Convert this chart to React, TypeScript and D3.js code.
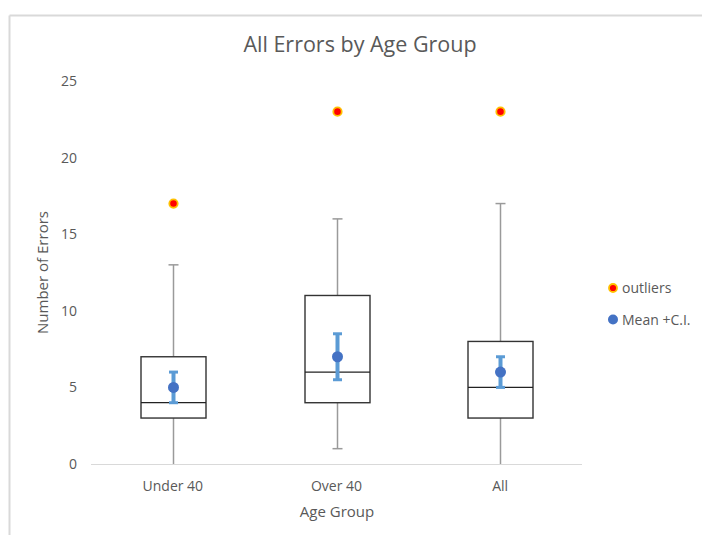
import React from "react";
import * as d3 from "d3";

// Box-plot statistics per age group
const groups = ["Under 40", "Over 40", "All"];
const whiskerLow = [0, 1, 0];
const q1 = [3, 4, 3];
const median = [4, 6, 5];
const q3 = [7, 11, 8];
const whiskerHigh = [13, 16, 17];
const outliers = [17, 23, 23];
const means = [5, 7, 6];
const ciLow = [4, 5.5, 5];
const ciHigh = [6, 8.5, 7];
const yTicks = [0, 5, 10, 15, 20, 25];

const W = 702;
const H = 535;
const margin = { left: 91, right: 120, top: 81, bottom: 71 };
const FONT = "'Open Sans', sans-serif";
const TEXT = "#595959";

export default function App() {
  const x = d3
    .scaleBand<string>()
    .domain(groups)
    .range([margin.left, W - margin.right])
    .paddingInner(0)
    .paddingOuter(0);
  const y = d3.scaleLinear().domain([0, 25]).range([H - margin.bottom, margin.top]);
  const boxW = 65;
  const capW = 10;
  const ciCapW = 9;

  return (
    <svg
      width={W}
      height={H}
      style={{ position: "absolute", left: 0, top: 0, background: "#fff" }}
      fontFamily={FONT}
    >
      {/* frame */}
      <line x1={9.5} y1={15.5} x2={W} y2={15.5} stroke="#d9d9d9" strokeWidth={2} />
      <line x1={9.5} y1={15.5} x2={9.5} y2={H} stroke="#d9d9d9" strokeWidth={2} />

      <text x={360} y={52} textAnchor="middle" fontSize={21.5} fill={TEXT}>
        All Errors by Age Group
      </text>

      {/* y axis labels */}
      {yTicks.map((t) => (
        <text
          key={t}
          x={77}
          y={y(t)}
          dy="0.35em"
          textAnchor="end"
          fontSize={14}
          fill={TEXT}
        >
          {t}
        </text>
      ))}
      <text
        transform={`translate(48,${(y(0) + y(25)) / 2}) rotate(-90)`}
        textAnchor="middle"
        fontSize={15}
        fill={TEXT}
      >
        Number of Errors
      </text>

      {/* x axis */}
      <line
        x1={margin.left}
        x2={W - margin.right}
        y1={y(0) + 0.5}
        y2={y(0) + 0.5}
        stroke="#d9d9d9"
        strokeWidth={1}
      />
      {groups.map((g) => (
        <text
          key={g}
          x={(x(g) as number) + x.bandwidth() / 2}
          y={491}
          textAnchor="middle"
          fontSize={14}
          fill={TEXT}
        >
          {g}
        </text>
      ))}
      <text x={337} y={517} textAnchor="middle" fontSize={15} fill={TEXT}>
        Age Group
      </text>

      {/* boxes */}
      {groups.map((g, i) => {
        const cx = Math.round((x(g) as number) + x.bandwidth() / 2) + 0.5;
        return (
          <g key={g}>
            <line x1={cx} x2={cx} y1={y(q3[i])} y2={y(whiskerHigh[i])} stroke="#9a9a9a" strokeWidth={1.5} />
            <line x1={cx} x2={cx} y1={y(q1[i])} y2={y(whiskerLow[i])} stroke="#9a9a9a" strokeWidth={1.5} />
            <line x1={cx - capW / 2} x2={cx + capW / 2} y1={y(whiskerHigh[i])} y2={y(whiskerHigh[i])} stroke="#9a9a9a" strokeWidth={1.5} />
            {whiskerLow[i] > 0 && (
              <line x1={cx - capW / 2} x2={cx + capW / 2} y1={y(whiskerLow[i])} y2={y(whiskerLow[i])} stroke="#9a9a9a" strokeWidth={1.5} />
            )}
            <rect
              x={cx - boxW / 2}
              y={y(q3[i])}
              width={boxW}
              height={y(q1[i]) - y(q3[i])}
              fill="none"
              stroke="#333"
              strokeWidth={1.4}
            />
            <line x1={cx - boxW / 2} x2={cx + boxW / 2} y1={y(median[i])} y2={y(median[i])} stroke="#222" strokeWidth={1.3} />
            {/* confidence interval */}
            <line x1={cx} x2={cx} y1={y(ciLow[i])} y2={y(ciHigh[i])} stroke="#5B9BD5" strokeWidth={4} />
            <line x1={cx - ciCapW / 2} x2={cx + ciCapW / 2} y1={y(ciLow[i])} y2={y(ciLow[i])} stroke="#5B9BD5" strokeWidth={3} />
            <line x1={cx - ciCapW / 2} x2={cx + ciCapW / 2} y1={y(ciHigh[i])} y2={y(ciHigh[i])} stroke="#5B9BD5" strokeWidth={3} />
            <circle cx={cx} cy={y(means[i])} r={5.5} fill="#4472C4" />
            {/* outlier */}
            <circle cx={cx} cy={y(outliers[i])} r={4.2} fill="#FF0000" stroke="#FFC000" strokeWidth={1.8} />
          </g>
        );
      })}

      {/* legend */}
      <circle cx={613} cy={288} r={4} fill="#FF0000" stroke="#FFC000" strokeWidth={1.8} />
      <text x={622} y={293} fontSize={14} fill={TEXT}>outliers</text>
      <circle cx={613} cy={319.5} r={5} fill="#4472C4" />
      <text x={622} y={324.5} fontSize={14} fill={TEXT}>Mean +C.I.</text>
    </svg>
  );
}
